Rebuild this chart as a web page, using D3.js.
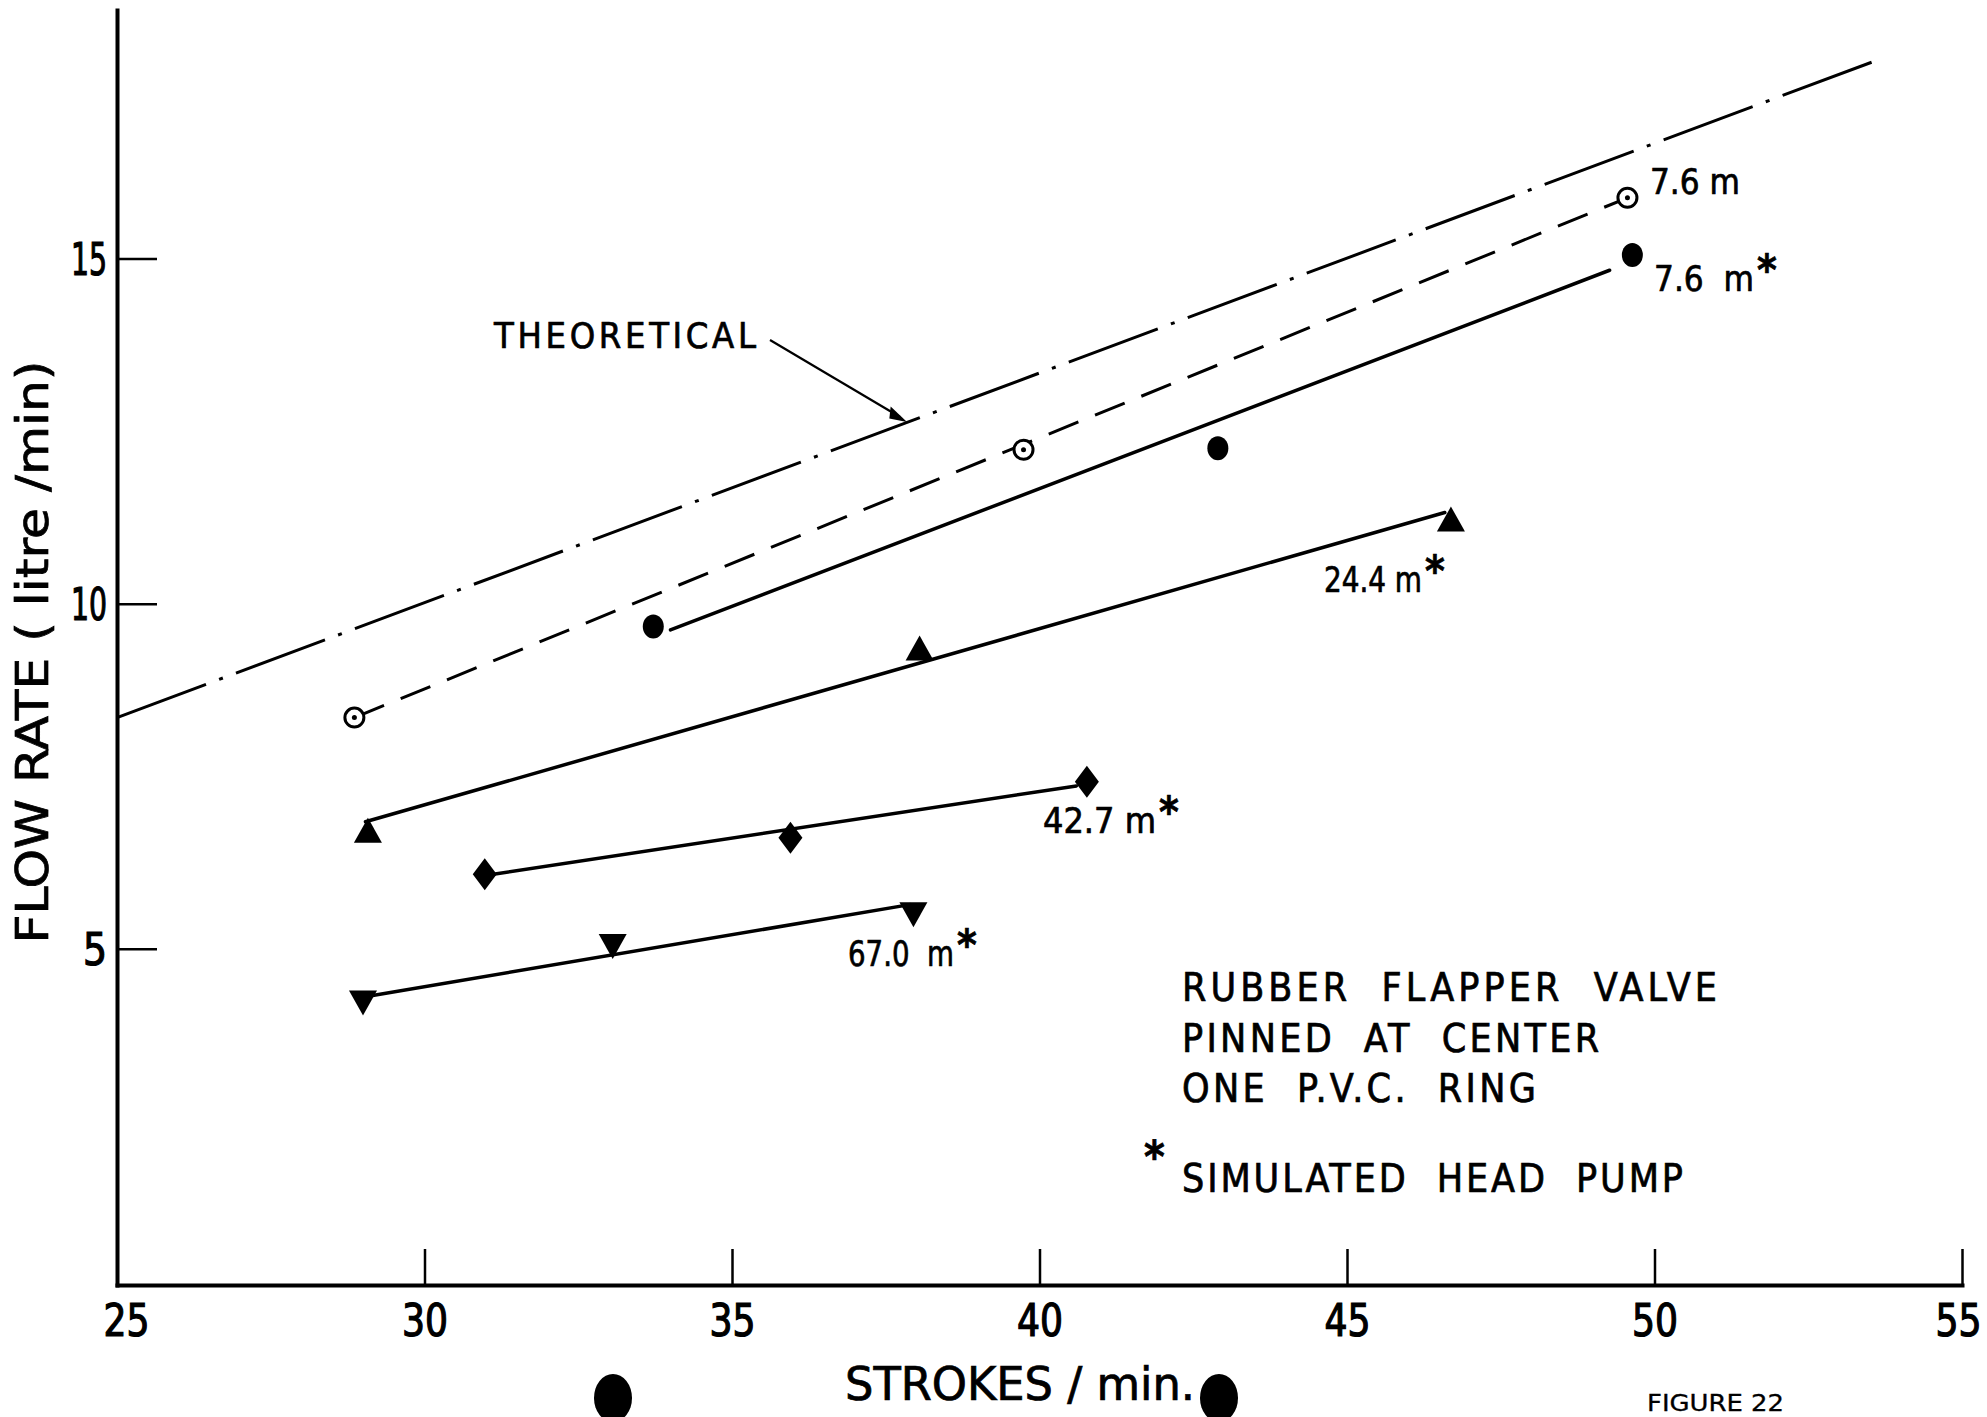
<!DOCTYPE html>
<html>
<head>
<meta charset="utf-8">
<script src="https://cdn.jsdelivr.net/npm/d3@7"></script>
<style>
  body { margin: 0; background: #fff; }
  svg { display: block; }
  text { fill: #000; font-stretch: condensed; stroke: #000; stroke-width: 0.7px; }
</style>
</head>
<body>
<svg id="chart" width="1987" height="1417"></svg>
<script>
// values: [strokes/min, flow rate litre/min]
const xTickValues = [25, 30, 35, 40, 45, 50, 55];
const yTickValues = [5, 10, 15];

const theoretical = [[25, 8.35], [53.7, 17.9]];

const open76 = [[28.86, 8.35], [39.74, 12.23], [49.56, 15.88]];

const filled76 = [[33.72, 9.67], [42.9, 12.25], [49.64, 15.05]];
const filled76Fit = [[34.0, 9.62], [49.27, 14.83]];

const up244 = [[29.08, 6.68], [38.05, 9.32], [46.69, 11.19]];
const up244Fit = [[29.04, 6.84], [46.59, 11.32]];

const dia427 = [[30.98, 6.08], [35.95, 6.61], [40.77, 7.42]];
const dia427Fit = [[31.12, 6.08], [40.6, 7.36]];

const down670 = [[29.0, 4.25], [33.06, 5.07], [37.95, 5.53]];
const down670Fit = [[29.06, 4.31], [37.89, 5.64]];

const noteLines = ["RUBBER  FLAPPER  VALVE", "PINNED  AT  CENTER", "ONE  P.V.C.  RING"];
const noteStar = "SIMULATED  HEAD  PUMP";

const svg = d3.select("#chart");
const FONT = "'DejaVu Sans', 'Liberation Sans', sans-serif";

const x = d3.scaleLinear().domain([25, 55]).range([117, 1962]);
const y = d3.scaleLinear().domain([0.13, 18.6]).range([1285, 10]);

// axes, ticks pointing inward
const gy = svg.append("g").attr("transform", "translate(" + x(25) + ",0)")
  .call(d3.axisLeft(y).tickValues(yTickValues).tickSizeInner(-40).tickSizeOuter(0).tickPadding(10));
const gx = svg.append("g").attr("transform", "translate(0," + y(0.13) + ")")
  .call(d3.axisBottom(x).tickValues(xTickValues).tickSizeInner(-36).tickSizeOuter(0).tickPadding(20));

[gx, gy].forEach(g => {
  g.attr("font-family", FONT).attr("font-size", 44);
  g.select(".domain").attr("stroke-width", 4).attr("stroke-linecap", "square");
  g.selectAll(".tick line").attr("stroke-width", 2.5);
  g.selectAll(".tick text")
    .attr("textLength", d => d < 20 && d >= 10 ? 36 : (d < 10 ? 24 : 46))
    .attr("lengthAdjust", "spacingAndGlyphs")
    .style("stroke-width", "1.2px");
});
gy.selectAll(".tick text").attr("dy", "0.36em");
gx.selectAll(".tick text").filter(d => d === 25).attr("dx", 9);
gx.selectAll(".tick text").filter(d => d === 55).attr("dx", -4);

const line = d3.line().x(d => x(d[0])).y(d => y(d[1]));

// theoretical, dash-dot
svg.append("path").datum(theoretical)
  .attr("d", line).attr("fill", "none").attr("stroke", "#000")
  .attr("stroke-width", 3).attr("stroke-dasharray", "95,14,4,14");

// 7.6 m, dashed
svg.append("path").datum([open76[0], open76[2]])
  .attr("d", line).attr("fill", "none").attr("stroke", "#000")
  .attr("stroke-width", 3).attr("stroke-dasharray", "32,18");

// fitted solid lines
[filled76Fit, up244Fit, dia427Fit, down670Fit].forEach(s => {
  svg.append("path").datum(s)
    .attr("d", line).attr("fill", "none").attr("stroke", "#000")
    .attr("stroke-width", 3.5).attr("stroke-linecap", "round");
});

// markers
svg.selectAll(".oc").data(open76).enter().append("circle")
  .attr("cx", d => x(d[0])).attr("cy", d => y(d[1])).attr("r", 9.5)
  .attr("fill", "#fff").attr("stroke", "#000").attr("stroke-width", 3);
svg.selectAll(".ocd").data(open76).enter().append("circle")
  .attr("cx", d => x(d[0])).attr("cy", d => y(d[1])).attr("r", 2.5).attr("fill", "#000");

svg.selectAll(".fc").data(filled76).enter().append("ellipse")
  .attr("cx", d => x(d[0])).attr("cy", d => y(d[1])).attr("rx", 10.5).attr("ry", 12)
  .attr("fill", "#000");

const tri = "M0,-15L14,10L-14,10Z";
svg.selectAll(".tu").data(up244).enter().append("path")
  .attr("d", tri).attr("transform", d => "translate(" + x(d[0]) + "," + y(d[1]) + ")")
  .attr("fill", "#000");
svg.selectAll(".td").data(down670).enter().append("path")
  .attr("d", tri).attr("transform", d => "translate(" + x(d[0]) + "," + y(d[1]) + ") rotate(180)")
  .attr("fill", "#000");
svg.selectAll(".di").data(dia427).enter().append("path")
  .attr("d", "M0,-16L12,0L0,16L-12,0Z")
  .attr("transform", d => "translate(" + x(d[0]) + "," + y(d[1]) + ")")
  .attr("fill", "#000");

// series labels (asterisk = simulated head)
function label(tx, ty, str, star, w) {
  const t = svg.append("text").attr("x", tx).attr("y", ty)
    .attr("font-family", FONT).attr("font-size", 36)
    .style("white-space", "pre");
  t.append("tspan").attr("textLength", w).attr("lengthAdjust", "spacingAndGlyphs").text(str);
  if (star) {
    t.append("tspan").attr("dx", 3).attr("dy", -6)
      .attr("font-size", 42).attr("font-weight", "bold").text("*");
  }
}
label(1650, 194, "7.6 m", false, 90);
label(1654, 291, "7.6  m", true, 100);
label(1324, 592, "24.4 m", true, 98);
label(1043, 833, "42.7 m", true, 113);
label(848, 966, "67.0  m", true, 106);

// theoretical label + arrow
svg.append("text").attr("x", 494).attr("y", 348)
  .attr("font-family", FONT).attr("font-size", 36)
  .attr("textLength", 262).attr("lengthAdjust", "spacing").text("THEORETICAL");
svg.append("line").attr("x1", 770).attr("y1", 340).attr("x2", 900).attr("y2", 417)
  .attr("stroke", "#000").attr("stroke-width", 2.2);
svg.append("path").attr("d", "M0,0L-22,-5L-17,6Z")
  .attr("transform", "translate(907,422) rotate(" + (Math.atan2(82, 137) * 180 / Math.PI) + ")")
  .attr("fill", "#000");

// note block
const noteW = [535, 417, 354];
noteLines.forEach((s, i) => {
  svg.append("text").attr("x", 1182).attr("y", 1001 + i * 50.5)
    .attr("font-family", FONT).attr("font-size", 39)
    .attr("textLength", noteW[i]).attr("lengthAdjust", "spacing")
    .style("white-space", "pre").text(s);
});
svg.append("text").attr("x", 1144).attr("y", 1172)
  .attr("font-family", FONT).attr("font-size", 44).attr("font-weight", "bold").text("*");
svg.append("text").attr("x", 1182).attr("y", 1192)
  .attr("font-family", FONT).attr("font-size", 39)
  .attr("textLength", 501).attr("lengthAdjust", "spacing")
  .style("white-space", "pre").text(noteStar);

// axis titles
svg.append("text").attr("x", 845).attr("y", 1400)
  .attr("font-family", FONT).attr("font-size", 46)
  .attr("textLength", 350).attr("lengthAdjust", "spacingAndGlyphs").text("STROKES / min.");
svg.append("text").attr("transform", "translate(48,652) rotate(-90)")
  .attr("text-anchor", "middle")
  .attr("font-family", FONT).attr("font-size", 45)
  .attr("textLength", 583).attr("lengthAdjust", "spacingAndGlyphs").text("FLOW RATE ( litre /min)");

svg.append("text").attr("x", 1647).attr("y", 1411)
  .attr("font-family", FONT).attr("font-size", 23)
  .attr("textLength", 137).attr("lengthAdjust", "spacingAndGlyphs")
  .style("white-space", "pre").style("stroke-width", "0.3px").text("FIGURE 22");

// binder punch holes on the scanned page
[613, 1219].forEach(cx => {
  svg.append("ellipse").attr("cx", cx).attr("cy", 1398).attr("rx", 19).attr("ry", 24).attr("fill", "#000");
});
</script>
</body>
</html>
